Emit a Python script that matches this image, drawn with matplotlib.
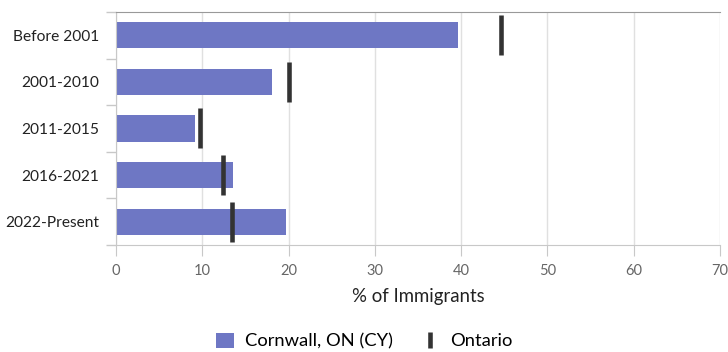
import matplotlib
matplotlib.use('Agg')
import matplotlib.pyplot as plt
from matplotlib.lines import Line2D
from matplotlib.patches import Patch
import numpy as np

plt.rcParams['font.family'] = ['Lato', 'DejaVu Sans']

# data
periods = ['Before 2001', '2001-2010', '2011-2015', '2016-2021', '2022-Present']
cornwall = [39.6, 18.1, 9.1, 13.6, 19.7]
ontario = [44.6, 20.0, 9.7, 12.4, 13.5]

bar_color = '#6e77c4'
mark_color = '#333333'
axis_gray = '#c8c8c8'

fig = plt.figure(figsize=(7.28, 3.52), dpi=100)
ax = fig.add_axes([116/728, 1 - 245/352, 604/728, 233/352])

y = np.arange(len(periods))
ax.barh(y, cornwall, height=0.56, color=bar_color, zorder=2)
# Ontario reference marks: short thick vertical lines
ax.scatter(ontario, y, marker='|', s=830, linewidths=3.3, color=mark_color, zorder=3)

ax.set_xlim(0, 70)
ax.set_ylim(len(periods) - 0.5, -0.5)
ax.set_xticks(np.arange(0, 71, 10))
ax.set_yticks(y)
ax.set_yticklabels(periods, fontsize=11.2, color='#222222')
ax.set_yticks(np.arange(-0.5, len(periods), 1), minor=True)
ax.tick_params(axis='y', which='major', length=0, pad=12)
ax.tick_params(axis='y', which='minor', length=7, color=axis_gray, width=1)
ax.tick_params(axis='x', length=8, color=axis_gray, labelsize=10.5, labelcolor='#666666', pad=6)

ax.grid(axis='x', color='#e0e0e0', linewidth=1, zorder=0)
ax.set_axisbelow(True)
for side in ['left', 'bottom', 'top']:
    ax.spines[side].set_color(axis_gray)
ax.spines['top'].set_color('#999999')
ax.spines['right'].set_visible(False)

ax.set_xlabel('% of Immigrants', fontsize=13.4, color='#222222', labelpad=7)

handles = [Patch(facecolor=bar_color, label='Cornwall, ON (CY)'),
           Line2D([], [], marker='|', linestyle='none', markersize=11, markeredgewidth=3.3,
                  color=mark_color, label='Ontario')]
fig.legend(handles=handles, loc='center', bbox_to_anchor=(0.5, 1 - 341/352), ncol=2,
           frameon=False, fontsize=13.2, handlelength=1.0, handleheight=0.9,
           columnspacing=1.5, handletextpad=0.6)

fig.savefig('out.png', dpi=100)
